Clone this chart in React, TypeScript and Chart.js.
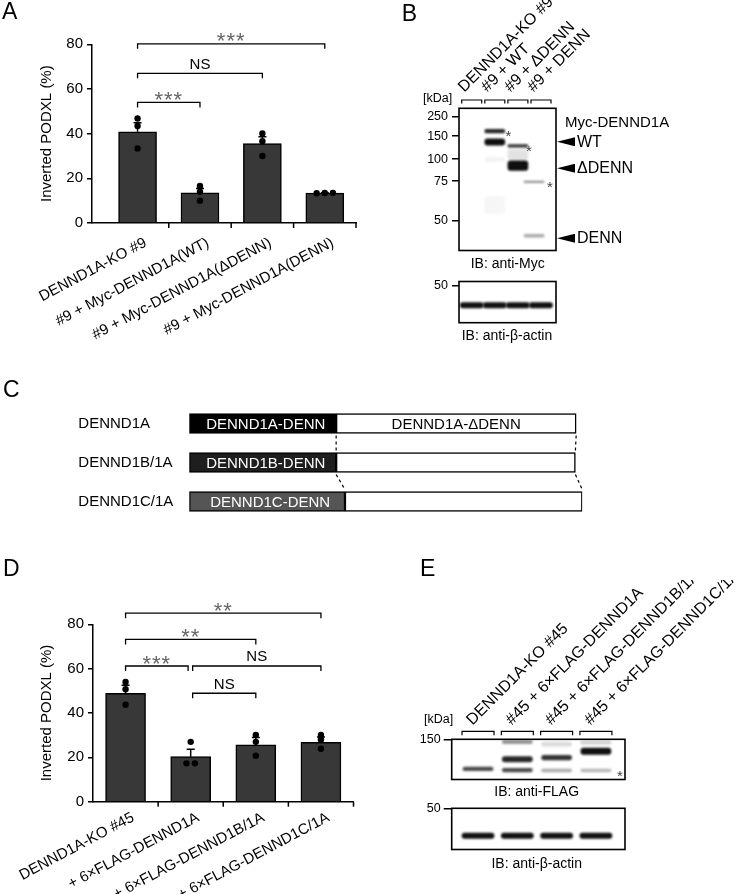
import React, { useEffect, useRef } from 'react';
import { Chart, registerables } from 'chart.js';

Chart.register(...registerables);

const FONT = "'Liberation Sans', Arial, Helvetica, sans-serif";
Chart.defaults.font.family = FONT;
Chart.defaults.color = '#000';

// ---------------- Panel A ----------------
const catsA = ['DENND1A-KO #9', '#9 + Myc-DENND1A(WT)', '#9 + Myc-DENND1A(ΔDENN)', '#9 + Myc-DENND1A(DENN)'];
const meanA = [40.8, 13.5, 35.6, 13.4];
const semA = [4.1, 1.9, 3.0, 0.1];
const dotsA = [[46.8, 43.4, 33.4], [16.6, 14.0, 10.0], [40.1, 36.6, 30.0], [13.3, 13.4, 13.5]];
const jitterA = [[0, 0, 0], [0, 0, 0], [0, 0, 0], [-0.13, 0, 0.13]];
const sigA: any[] = [[0, 1, '***', 54], [0, 2, 'NS', 67], [0, 3, '***', 80.2]];
const yTicks = [0, 20, 40, 60, 80];

// ---------------- Panel D ----------------
const catsD = ['DENND1A-KO #45', '+ 6×FLAG-DENND1A', '+ 6×FLAG-DENND1B/1A', '+ 6×FLAG-DENND1C/1A'];
const meanD = [48.9, 20.3, 25.6, 26.8];
const semD = [3.6, 3.3, 3.3, 2.4];
const dotsD = [[54.0, 50.7, 43.7], [27.0, 17.3, 17.3], [30.1, 27.0, 20.7], [30.1, 28.1, 23.9]];
const jitterD = [[0, 0, 0], [0, -0.065, 0.065], [0, 0, 0], [0, 0, 0]];
const sigD: any[] = [[0, 0.96, '***', 61.2], [1.03, 3, 'NS', 61.2], [1.03, 2, 'NS', 48.9], [0, 2, '**', 73.2], [0, 3, '**', 85]];

// ---------------- Panel C (domain diagram, aa) ----------------
const rowsC = ['DENND1A', 'DENND1B/1A', 'DENND1C/1A'];
const dennEndC = [383, 383, 406];
const totalC = [1009, 1007, 1025];
const dennLabelC = ['DENND1A-DENN', 'DENND1B-DENN', 'DENND1C-DENN'];
const restLabelC = ['DENND1A-ΔDENN', '', ''];
const dennColorC = ['#000000', '#1e1e1e', '#555555'];

// ---------------- Panel B (anti-Myc blot; migration 0 = top, 100 = bottom) ----------------
const lanesB = ['DENND1A-KO #9', '#9 + WT', '#9 + ΔDENN', '#9 + DENN'];
const markerLabB = ['250', '150', '100', '75', '50'];
const markerPosB = [5.8, 19.6, 35.7, 51.3, 78.9];
const bandLaneB = [2, 2, 3, 3, 3, 3.7, 3.7, 2, 2];
const bandPosB = [16.1, 23.7, 26.5, 32.5, 40.3, 51.7, 89.7, 36, 68];
const bandThB = [2.6, 4.6, 1.8, 7, 6.6, 1.2, 2.0, 3, 12];
const bandAlphaB = [0.9, 1.0, 0.85, 0.12, 1.0, 0.45, 0.35, 0.05, 0.04];
const actinLabB = ['50'];
const actinMarkB = [9.6];
const actinLaneB = [1, 2, 3, 4];
const actinPosB = [57.5, 57.5, 57.5, 57.5];
const actinThB = [13, 13, 13, 13];
const actinAlphaB = [1, 1, 1, 1];

// ---------------- Panel E (anti-FLAG blot) ----------------
const lanesE = ['DENND1A-KO #45', '#45 + 6×FLAG-DENND1A', '#45 + 6×FLAG-DENND1B/1A', '#45 + 6×FLAG-DENND1C/1A'];
const markerLabE = ['150'];
const markerPosE = [0];
const bandLaneE = [1, 2, 2, 2, 3, 3, 3, 4, 4, 4];
const bandPosE = [73.6, 6.5, 49.6, 76.5, 45.6, 77.7, 12, 29.7, 77.7, 8];
const bandThE = [9, 9, 13, 9, 12, 7, 10, 16, 7, 8];
const bandAlphaE = [0.75, 0.45, 0.9, 0.75, 0.85, 0.35, 0.15, 1.0, 0.3, 0.2];
const actinLabE = ['50'];
const actinMarkE = [0];
const actinLaneE = [1, 2, 3, 4];
const actinPosE = [66.4, 66.4, 66.4, 66.4];
const actinThE = [13, 13, 13, 13];
const actinAlphaE = [1, 1, 1, 1];

// ---------------- chart builders ----------------
function makeBarChart(o: any) {
  const plugin = {
    id: 'barExtras',
    afterDatasetDraw(chart: any, args: any) {
      if (args.index !== 0) return;
      const { ctx, scales: { x, y } } = chart;
      ctx.save();
      ctx.strokeStyle = '#000';
      ctx.lineWidth = 1.5;
      o.mean.forEach((m: number, i: number) => {
        const px = x.getPixelForValue(i);
        const a = y.getPixelForValue(m);
        const b = y.getPixelForValue(m + o.sem[i]);
        ctx.beginPath();
        ctx.moveTo(px, a);
        ctx.lineTo(px, b);
        ctx.moveTo(px - 4, b);
        ctx.lineTo(px + 4, b);
        ctx.stroke();
      });
      ctx.restore();
    },
    afterDraw(chart: any) {
      const { ctx, scales: { x, y } } = chart;
      ctx.save();
      ctx.strokeStyle = '#000';
      ctx.lineWidth = 1.5;
      const y0 = y.getPixelForValue(0);
      o.cats.forEach((_: any, i: number) => {
        const px = x.getPixelForValue(i + 0.5);
        ctx.beginPath();
        ctx.moveTo(px, y0);
        ctx.lineTo(px, y0 + 5);
        ctx.stroke();
      });
      ctx.lineWidth = 1.3;
      o.sig.forEach(([i, j, t, v]: any) => {
        const x1 = x.getPixelForValue(i);
        const x2 = x.getPixelForValue(j);
        const py = y.getPixelForValue(v);
        ctx.beginPath();
        ctx.moveTo(x1, py + 5);
        ctx.lineTo(x1, py);
        ctx.lineTo(x2, py);
        ctx.lineTo(x2, py + 5);
        ctx.stroke();
        ctx.textAlign = 'center';
        ctx.textBaseline = 'alphabetic';
        const cx = (x1 + x2) / 2;
        if (String(t).includes('*')) {
          ctx.font = `22px ${FONT}`;
          ctx.fillStyle = '#666';
          (ctx as any).letterSpacing = '1px';
          ctx.fillText(t, cx, py + 4.6);
          (ctx as any).letterSpacing = '0px';
        } else {
          ctx.font = `15px ${FONT}`;
          ctx.fillStyle = '#000';
          ctx.fillText(t, cx, py - 4.5);
        }
      });
      ctx.restore();
    },
  };
  return {
    type: 'bar',
    data: {
      datasets: [
        {
          type: 'bar',
          data: o.mean.map((m: number, i: number) => ({ x: i, y: m })),
          backgroundColor: '#383838',
          borderColor: '#000',
          borderWidth: 1.5,
          barThickness: o.barW,
          order: 1,
        },
        {
          type: 'scatter',
          data: o.dots.flatMap((d: number[], i: number) => d.map((v, k) => ({ x: i + o.jitter[i][k], y: v }))),
          pointRadius: 3.2,
          pointBackgroundColor: '#000',
          pointBorderWidth: 0,
          order: 0,
        },
      ],
    },
    options: {
      responsive: false,
      animation: false,
      layout: { padding: { top: o.padTop, right: o.padRight, left: 0, bottom: 0 } },
      plugins: { legend: { display: false }, tooltip: { enabled: false } },
      scales: {
        x: {
          type: 'linear',
          min: o.xMin,
          max: o.cats.length - 0.5,
          offset: false,
          afterBuildTicks: (s: any) => { s.ticks = o.cats.map((_: any, i: number) => ({ value: i })); },
          afterFit: (s: any) => { s.height = o.xH; s.paddingLeft = 0; s.paddingRight = 0; },
          ticks: {
            autoSkip: false,
            minRotation: o.rot,
            maxRotation: o.rot,
            labelOffset: o.labelOffset,
            padding: o.labelPad,
            font: { size: 15 },
            color: '#000',
            callback: (v: number) => o.cats[v],
          },
          grid: { display: false, drawTicks: false, offset: false },
          border: { display: true, color: '#000', width: 1.5 },
        },
        y: {
          type: 'linear',
          min: 0,
          max: 80,
          afterBuildTicks: (s: any) => { s.ticks = yTicks.map((v) => ({ value: v })); },
          afterFit: (s: any) => { s.width = o.yW; },
          ticks: { font: { size: 15 }, padding: 4, color: '#000' },
          grid: { display: true, drawOnChartArea: false, drawTicks: true, tickLength: 5, color: '#000', lineWidth: 1.5 },
          border: { display: true, color: '#000', width: 1.5 },
          title: { display: true, text: 'Inverted PODXL (%)', font: { size: 15 }, color: '#000', padding: { top: 37.5, bottom: 0 } },
        },
      },
    },
    plugins: [plugin],
  };
}

function makeBlot(o: any) {
  const lanes: string[] = o.lanes || [];
  const plugin = {
    id: 'blotExtras',
    beforeDatasetsDraw(chart: any) { chart.ctx.save(); chart.ctx.filter = `blur(${o.blur}px)`; },
    afterDatasetsDraw(chart: any) { chart.ctx.restore(); },
    afterDraw(chart: any) {
      const { ctx, chartArea: a, scales: { x } } = chart;
      ctx.save();
      ctx.strokeStyle = '#000';
      ctx.lineWidth = 1.6;
      ctx.strokeRect(a.left, a.top, a.right - a.left, a.bottom - a.top);
      ctx.lineWidth = 1.2;
      lanes.forEach((_, i) => {
        const cx = x.getPixelForValue(i + 1);
        const yb = a.top - o.brGap;
        const yt = yb - o.brH;
        ctx.beginPath();
        ctx.moveTo(cx - o.brHW, yb);
        ctx.lineTo(cx - o.brHW, yt);
        ctx.lineTo(cx + o.brHW, yt);
        ctx.lineTo(cx + o.brHW, yb);
        ctx.stroke();
      });
      ctx.restore();
    },
  };
  return {
    type: 'bar',
    data: {
      datasets: [
        {
          data: o.bandLane.map((l: number, i: number) => ({ x: l, y: [o.bandPos[i] - o.bandTh[i] / 2, o.bandPos[i] + o.bandTh[i] / 2] })),
          backgroundColor: o.bandAlpha.map((al: number) => `rgba(15,15,15,${al})`),
          borderWidth: 0,
          borderRadius: 3,
          borderSkipped: false,
          barThickness: o.bandW,
          grouped: false,
        },
      ],
    },
    options: {
      responsive: false,
      animation: false,
      layout: { padding: { top: 0, right: o.padRight, left: 0, bottom: o.padBottom } },
      plugins: { legend: { display: false }, tooltip: { enabled: false } },
      scales: {
        x: {
          type: 'linear',
          position: 'top',
          min: o.xMin,
          max: o.xMax,
          offset: false,
          afterBuildTicks: (s: any) => { s.ticks = lanes.map((_, i) => ({ value: i + 1 })); },
          afterFit: (s: any) => { s.height = o.top; s.paddingLeft = 0; s.paddingRight = 0; },
          ticks: {
            display: lanes.length > 0,
            autoSkip: false,
            minRotation: 45,
            maxRotation: 45,
            labelOffset: o.labelOffset || 0,
            padding: o.labelPad || 0,
            font: { size: 16 },
            color: '#000',
            callback: (v: number) => lanes[v - 1],
          },
          grid: { display: false, drawTicks: false },
          border: { display: false },
        },
        y: {
          type: 'linear',
          reverse: true,
          min: 0,
          max: 100,
          afterBuildTicks: (s: any) => { s.ticks = o.markerPos.map((v: number) => ({ value: v })); },
          afterFit: (s: any) => { s.width = o.yW; },
          ticks: { autoSkip: false, font: { size: 12.5 }, padding: o.tickPad, color: '#000', callback: (_v: any, i: number) => o.markerLab[i] },
          grid: { display: true, drawOnChartArea: false, drawTicks: true, tickLength: o.tickLen, color: '#000', lineWidth: 1.5 },
          border: { display: false },
        },
      },
    },
    plugins: [plugin],
  };
}

function makeDiagram() {
  const plugin = {
    id: 'diagExtras',
    afterDatasetsDraw(chart: any) {
      const { ctx, scales: { x, y } } = chart;
      ctx.save();
      ctx.font = `15px ${FONT}`;
      ctx.textAlign = 'center';
      ctx.textBaseline = 'middle';
      rowsC.forEach((_, i) => {
        const cy = y.getPixelForValue(i) + 1;
        ctx.fillStyle = '#fff';
        ctx.fillText(dennLabelC[i], x.getPixelForValue(dennEndC[i] / 2) + 3, cy);
        ctx.fillStyle = '#000';
        ctx.fillText(restLabelC[i], x.getPixelForValue((dennEndC[i] + totalC[i]) / 2), cy);
      });
      ctx.setLineDash([3, 3]);
      ctx.lineWidth = 1.2;
      ctx.strokeStyle = '#000';
      for (let i = 0; i < rowsC.length - 1; i++) {
        const y1 = y.getPixelForValue(i) + 12;
        const y2 = y.getPixelForValue(i + 1) - 12;
        [[dennEndC[i], dennEndC[i + 1]], [totalC[i], totalC[i + 1]]].forEach(([a, b]) => {
          ctx.beginPath();
          ctx.moveTo(x.getPixelForValue(a), y1);
          ctx.lineTo(x.getPixelForValue(b), y2);
          ctx.stroke();
        });
      }
      ctx.restore();
    },
  };
  return {
    type: 'bar',
    data: {
      labels: rowsC,
      datasets: [
        {
          data: rowsC.map((_, i) => [0, dennEndC[i]]),
          backgroundColor: dennColorC,
          borderColor: '#000',
          borderWidth: 1.5,
          borderSkipped: false,
          barThickness: 20,
          grouped: false,
        },
        {
          data: rowsC.map((_, i) => [dennEndC[i], totalC[i]]),
          backgroundColor: '#fff',
          borderColor: '#000',
          borderWidth: 1.5,
          borderSkipped: false,
          barThickness: 20,
          grouped: false,
        },
      ],
    },
    options: {
      indexAxis: 'y',
      responsive: false,
      animation: false,
      layout: { padding: { left: 78.3, top: 5.2, bottom: 3.2, right: 37.7 } },
      plugins: { legend: { display: false }, tooltip: { enabled: false } },
      scales: {
        x: { type: 'linear', min: 0, max: 1025, display: false },
        y: {
          type: 'category',
          ticks: { crossAlign: 'far', font: { size: 15 }, padding: 0, color: '#000' },
          grid: { display: false, drawTicks: false },
          border: { display: false },
          afterFit: (s: any) => { s.width = 111; },
        },
      },
    },
    plugins: [plugin],
  };
}

function ChartBox({ left, top, width, height, make }: any) {
  const ref = useRef<HTMLCanvasElement>(null);
  useEffect(() => {
    const chart = new Chart(ref.current as HTMLCanvasElement, make());
    return () => chart.destroy();
  }, []);
  return (
    <canvas
      ref={ref}
      width={width}
      height={height}
      style={{ position: 'absolute', left, top, width, height }}
    />
  );
}

function T({ x, y, s, align = 'left', color = '#000', children }: any) {
  const tx = align === 'center' ? '-50%' : align === 'right' ? '-100%' : '0';
  return (
    <div
      style={{
        position: 'absolute',
        left: x,
        top: y - s * 0.5,
        fontSize: s,
        lineHeight: `${s}px`,
        fontFamily: FONT,
        color,
        whiteSpace: 'nowrap',
        transform: `translateX(${tx})`,
      }}
    >
      {children}
    </div>
  );
}

function Star({ x, y }: any) {
  return <T x={x} y={y + 0.23 * 15} s={15} align="center" color="#444">*</T>;
}

function Arrow({ x, y, label }: any) {
  return (
    <>
      <div
        style={{
          position: 'absolute',
          left: x,
          top: y - 4.5,
          width: 18,
          height: 9,
          background: '#000',
          clipPath: 'polygon(100% 0, 0 50%, 100% 100%)',
        }}
      />
      <T x={x + 20} y={y} s={16}>{label}</T>
    </>
  );
}

export default function App() {
  return (
    <div style={{ position: 'absolute', left: 0, top: 0, width: 745, height: 894, background: '#fff', overflow: 'hidden' }}>
      <ChartBox
        left={0} top={0} width={380} height={360}
        make={() => makeBarChart({
          cats: catsA, mean: meanA, sem: semA, dots: dotsA, jitter: jitterA, sig: sigA,
          padTop: 44.3, padRight: 24, yW: 92, xH: 137, xMin: -0.73, barW: 38, rot: 28, labelOffset: 8, labelPad: 11,
        })}
      />
      <ChartBox
        left={0} top={580} width={380} height={314}
        make={() => makeBarChart({
          cats: catsD, mean: meanD, sem: semD, dots: dotsD, jitter: jitterD, sig: sigD,
          padTop: 44.3, padRight: 26.5, yW: 93, xH: 92.3, xMin: -0.5, barW: 40, rot: 28, labelOffset: 7.5, labelPad: 7,
        })}
      />
      <ChartBox left={0} top={395} width={620} height={135} make={makeDiagram} />
      <ChartBox
        left={380} top={0} width={365} height={262}
        make={() => makeBlot({
          lanes: lanesB, markerLab: markerLabB, markerPos: markerPosB,
          bandLane: bandLaneB, bandPos: bandPosB, bandTh: bandThB, bandAlpha: bandAlphaB, bandW: 20,
          xMin: 0.45, xMax: 4.65, yW: 79, top: 108.3, padRight: 189, padBottom: 8.7,
          tickLen: 7, tickPad: 4, labelOffset: 3, labelPad: 12, brGap: 4.8, brH: 3.5, brHW: 10, blur: 0.9,
        })}
      />
      <ChartBox
        left={380} top={270} width={365} height={80}
        make={() => makeBlot({
          markerLab: actinLabB, markerPos: actinMarkB,
          bandLane: actinLaneB, bandPos: actinPosB, bandTh: actinThB, bandAlpha: actinAlphaB, bandW: 23,
          xMin: 0.45, xMax: 4.65, yW: 79, top: 11, padRight: 189, padBottom: 27.3,
          tickLen: 7, tickPad: 4, blur: 1,
        })}
      />
      <ChartBox
        left={400} top={580} width={345} height={210}
        make={() => makeBlot({
          lanes: lanesE, markerLab: markerLabE, markerPos: markerPosE,
          bandLane: bandLaneE, bandPos: bandPosE, bandTh: bandThE, bandAlpha: bandAlphaE, bandW: 30,
          xMin: 0.33, xMax: 4.74, yW: 51.7, top: 159.3, padRight: 120, padBottom: 9,
          tickLen: 8, tickPad: 3, labelOffset: 5, labelPad: 10, brGap: 4, brH: 4, brHW: 16, blur: 1,
        })}
      />
      <ChartBox
        left={400} top={795} width={345} height={65}
        make={() => makeBlot({
          markerLab: actinLabE, markerPos: actinMarkE,
          bandLane: actinLaneE, bandPos: actinPosE, bandTh: actinThE, bandAlpha: actinAlphaE, bandW: 32,
          xMin: 0.33, xMax: 4.74, yW: 51.7, top: 13.3, padRight: 120, padBottom: 10,
          tickLen: 8, tickPad: 3, blur: 1,
        })}
      />

      {/* panel letters */}
      <T x={2} y={11.7} s={23}>A</T>
      <T x={401.7} y={13.3} s={23}>B</T>
      <T x={3} y={389} s={23}>C</T>
      <T x={3} y={568} s={23}>D</T>
      <T x={420} y={568} s={23}>E</T>

      {/* panel B annotations */}
      <T x={423} y={98} s={12.5}>[kDa]</T>
      <T x={565} y={121.7} s={15}>Myc-DENND1A</T>
      <Arrow x={557} y={141.7} label="WT" />
      <Arrow x={557} y={168.3} label="ΔDENN" />
      <Arrow x={557} y={238.3} label="DENN" />
      <Star x={508.3} y={131.7} />
      <Star x={529} y={146.7} />
      <Star x={550} y={183.3} />
      <T x={507.7} y={263.3} s={14} align="center">IB: anti-Myc</T>
      <T x={507} y={335} s={14} align="center">IB: anti-β-actin</T>

      {/* panel E annotations */}
      <T x={424} y={719.3} s={12.5}>[kDa]</T>
      <Star x={620} y={771.7} />
      <T x={536.7} y={790.7} s={14} align="center">IB: anti-FLAG</T>
      <T x={536.7} y={863.3} s={14} align="center">IB: anti-β-actin</T>
    </div>
  );
}
